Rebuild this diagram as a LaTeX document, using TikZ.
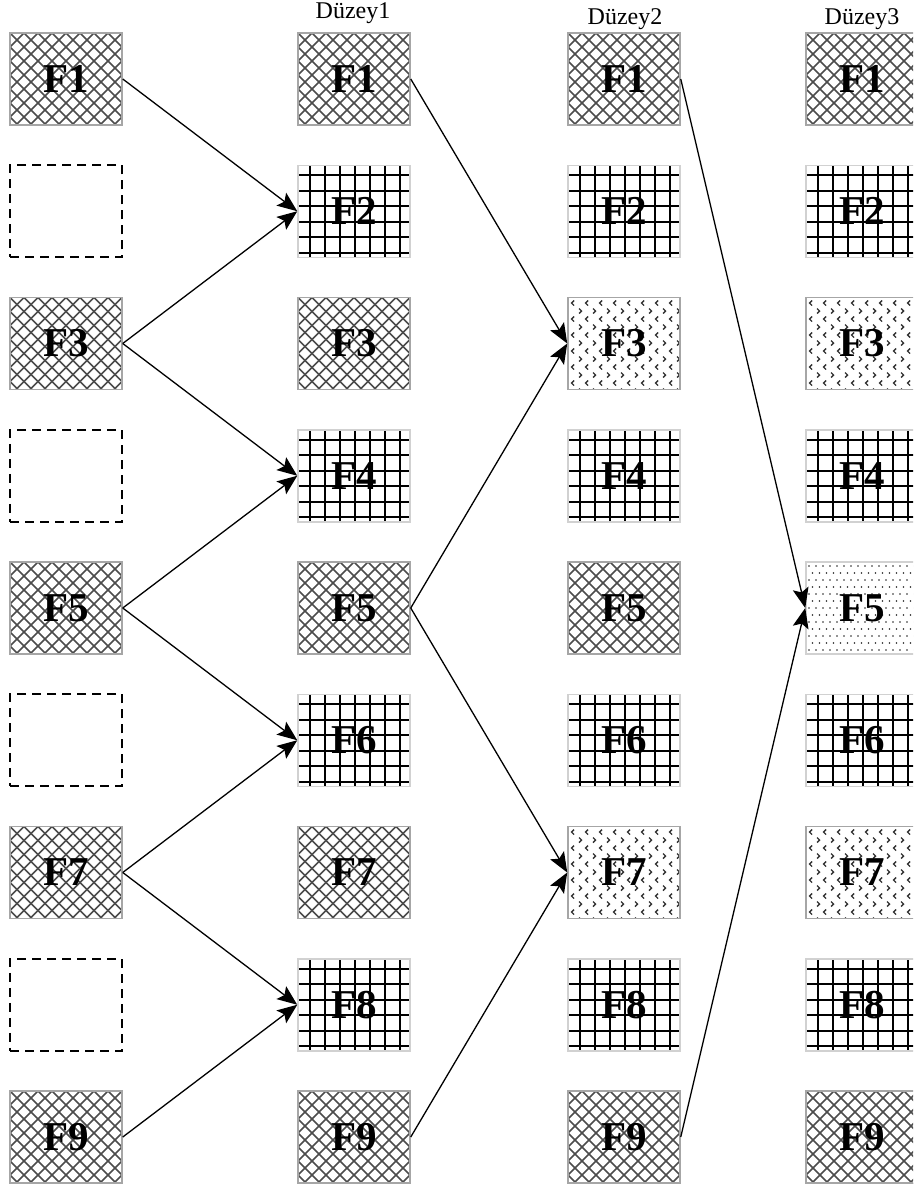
\documentclass[tikz,border=0pt]{standalone}
\usepackage{fontspec}
\setmainfont{Liberation Serif}
\usetikzlibrary{arrows.meta}
\newcommand{\myCrossFill}{%
  \begin{scope}[line width=1.6pt, draw=black!70]
    \foreach \a in {-98,-84,...,112}{\draw (\a,0) -- ++(100,100);}
    \foreach \a in {0,14,...,210}{\draw (\a,0) -- ++(-100,100);}
  \end{scope}}
\newcommand{\myGridFill}{%
  \begin{scope}[line width=2pt, draw=black]
    \foreach \k in {0,...,7}{\draw (12+15*\k,0) -- ++(0,95);}
    \foreach \k in {0,...,5}{\draw (0,10+15.5*\k) -- ++(115,0);}
  \end{scope}}
\newcommand{\myChevFill}{%
  \begin{scope}[line width=1.4pt, draw=black!80]
    \foreach \i in {0,...,8}{
      \foreach \j in {0,...,5}{
        \draw (6+14*\i,3+16*\j) -- ++(-2.5,2.5) -- ++(2.5,2.5);
        \draw (11+14*\i,11+16*\j) -- ++(2.5,2.5) -- ++(-2.5,2.5);
      }}
  \end{scope}}
\newcommand{\myDotFill}{%
  \begin{scope}[fill=black!85]
    \foreach \i in {0,...,16}{
      \foreach \j in {0,...,6}{
        \fill (3+7*\i,4+14*\j) circle (0.95);
        \fill (6.5+7*\i,11+14*\j) circle (0.95);
      }}
  \end{scope}}
% #1 fill macro, #2 style, #3 name, #4 x, #5 y, #6 text
\newcommand{\mybox}[6]{%
  \begin{scope}
    \clip (#4-56,#5-46) rectangle ++(112,92);
    \begin{scope}[shift={(#4-56,#5-46)}] #1 \end{scope}
  \end{scope}
  \node[#2] (#3) at (#4,#5) {#6};}
\tikzset{
  box/.style={minimum width=112pt, minimum height=92pt, inner sep=0pt, line width=1.5pt,
    font=\fontsize{41}{41}\selectfont\bfseries},
  crossbox/.style={box, draw=black!35},
  gridbox/.style={box, draw=black!18},
  chevbox/.style={box, draw=black!35},
  dotbox/.style={box, draw=black!18},
  emptybox/.style={box, draw=black, dashed, dash pattern=on 9pt off 6pt, line width=1.9pt},
  conn/.style={line width=1.3pt, -{Stealth[length=20pt,width=16pt,inset=4pt]}},
  lvl/.style={font=\fontsize{24}{24}\selectfont, anchor=base, inner sep=0pt}
}
\newcommand{\lab}[1]{\raisebox{-3pt}{#1}}
\begin{document}
\begin{tikzpicture}[x=1pt,y=-1pt]
\useasboundingbox (0,0) rectangle (913,1188);
\clip (0,0) rectangle (913,1188);
% column 1
\mybox{\myCrossFill}{crossbox}{a1}{66}{79}{\lab{F1}}
\node[emptybox] (a2) at (66,211.25) {};
\mybox{\myCrossFill}{crossbox}{a3}{66}{343.5}{\lab{F3}}
\node[emptybox] (a4) at (66,475.75) {};
\mybox{\myCrossFill}{crossbox}{a5}{66}{608}{\lab{F5}}
\node[emptybox] (a6) at (66,740.25) {};
\mybox{\myCrossFill}{crossbox}{a7}{66}{872.5}{\lab{F7}}
\node[emptybox] (a8) at (66,1004.75) {};
\mybox{\myCrossFill}{crossbox}{a9}{66}{1137}{\lab{F9}}
% column 2
\node[lvl] (l1) at (353,19) {Düzey1};
\mybox{\myCrossFill}{crossbox}{b1}{354}{79}{\lab{F1}}
\mybox{\myGridFill}{gridbox}{b2}{354}{211.25}{\lab{F2}}
\mybox{\myCrossFill}{crossbox}{b3}{354}{343.5}{\lab{F3}}
\mybox{\myGridFill}{gridbox}{b4}{354}{475.75}{\lab{F4}}
\mybox{\myCrossFill}{crossbox}{b5}{354}{608}{\lab{F5}}
\mybox{\myGridFill}{gridbox}{b6}{354}{740.25}{\lab{F6}}
\mybox{\myCrossFill}{crossbox}{b7}{354}{872.5}{\lab{F7}}
\mybox{\myGridFill}{gridbox}{b8}{354}{1004.75}{\lab{F8}}
\mybox{\myCrossFill}{crossbox}{b9}{354}{1137}{\lab{F9}}
% column 3
\node[lvl] (l2) at (625,25) {Düzey2};
\mybox{\myCrossFill}{crossbox}{c1}{624}{79}{\lab{F1}}
\mybox{\myGridFill}{gridbox}{c2}{624}{211.25}{\lab{F2}}
\mybox{\myChevFill}{chevbox}{c3}{624}{343.5}{\lab{F3}}
\mybox{\myGridFill}{gridbox}{c4}{624}{475.75}{\lab{F4}}
\mybox{\myCrossFill}{crossbox}{c5}{624}{608}{\lab{F5}}
\mybox{\myGridFill}{gridbox}{c6}{624}{740.25}{\lab{F6}}
\mybox{\myChevFill}{chevbox}{c7}{624}{872.5}{\lab{F7}}
\mybox{\myGridFill}{gridbox}{c8}{624}{1004.75}{\lab{F8}}
\mybox{\myCrossFill}{crossbox}{c9}{624}{1137}{\lab{F9}}
% column 4
\node[lvl] (l3) at (862,25) {Düzey3};
\mybox{\myCrossFill}{crossbox}{d1}{862}{79}{\lab{F1}}
\mybox{\myGridFill}{gridbox}{d2}{862}{211.25}{\lab{F2}}
\mybox{\myChevFill}{chevbox}{d3}{862}{343.5}{\lab{F3}}
\mybox{\myGridFill}{gridbox}{d4}{862}{475.75}{\lab{F4}}
\mybox{\myDotFill}{dotbox}{d5}{862}{608}{\lab{F5}}
\mybox{\myGridFill}{gridbox}{d6}{862}{740.25}{\lab{F6}}
\mybox{\myChevFill}{chevbox}{d7}{862}{872.5}{\lab{F7}}
\mybox{\myGridFill}{gridbox}{d8}{862}{1004.75}{\lab{F8}}
\mybox{\myCrossFill}{crossbox}{d9}{862}{1137}{\lab{F9}}
% connectors level 1
\draw[conn] (a1.east) -- (b2.west);
\draw[conn] (a3.east) -- (b2.west);
\draw[conn] (a3.east) -- (b4.west);
\draw[conn] (a5.east) -- (b4.west);
\draw[conn] (a5.east) -- (b6.west);
\draw[conn] (a7.east) -- (b6.west);
\draw[conn] (a7.east) -- (b8.west);
\draw[conn] (a9.east) -- (b8.west);
% level 2
\draw[conn] (b1.east) -- (c3.west);
\draw[conn] (b5.east) -- (c3.west);
\draw[conn] (b5.east) -- (c7.west);
\draw[conn] (b9.east) -- (c7.west);
% level 3
\draw[conn] (c1.east) -- (d5.west);
\draw[conn] (c9.east) -- (d5.west);
\end{tikzpicture}
\end{document}
